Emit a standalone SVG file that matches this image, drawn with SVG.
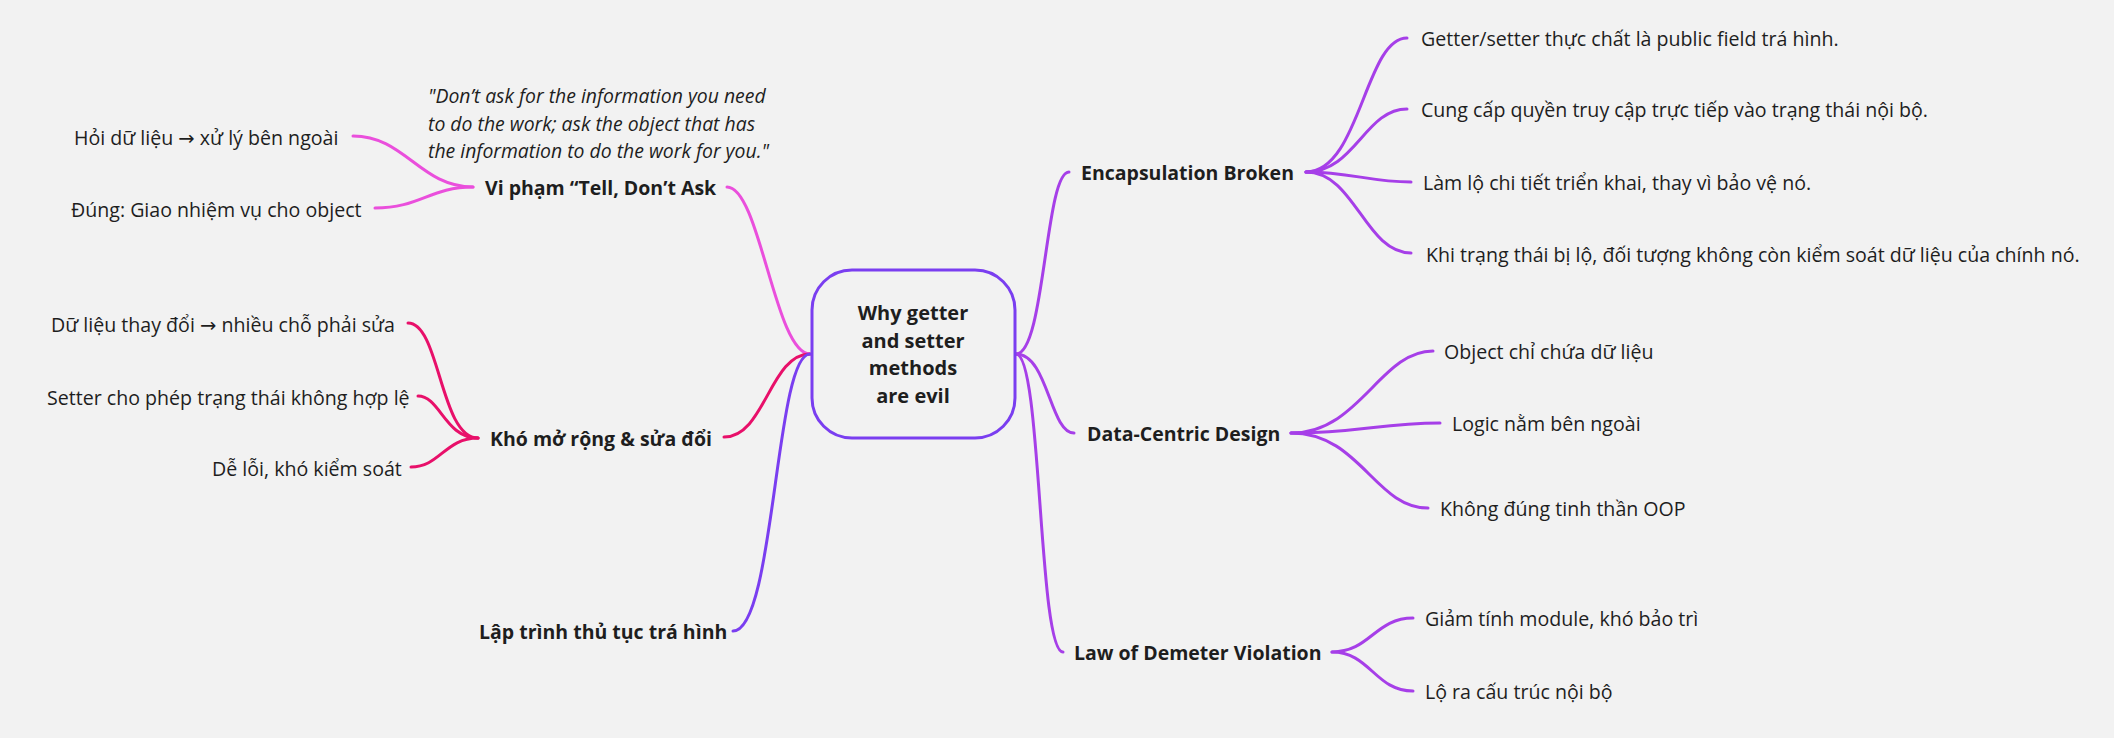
<svg xmlns="http://www.w3.org/2000/svg" width="2114" height="738" viewBox="0 0 2114 738">
<style>
text{font-family:"Open Sans","Noto Sans","DejaVu Sans",sans-serif;fill:#1e1e1e;dominant-baseline:central}
.b{font-weight:700;font-size:19.5px}
.l{font-size:19.6px}
.q{font-size:19.4px;font-style:italic}
.c{font-weight:700;font-size:20px;text-anchor:middle;dominant-baseline:auto}
.cn path{fill:none;stroke-width:3;stroke-linecap:round}
.pk{stroke:#ea4fdc}
.rd{stroke:#e8106a}
.vi{stroke:#7a3ef0}
.pu{stroke:#a63fe8}
</style>
<rect width="2114" height="738" fill="#f2f2f2"/>
<g id="connectors" class="cn">
<path class="pk" d="M810,354 C775,354 760,187 727,187"/>
<path class="rd" d="M810,354 C770,354 765,437 724,437"/>
<path class="vi" d="M810,354 C775,354 775,631 733,631"/>
<path class="pu" d="M1016,354 C1045,354 1045,172 1069,172"/>
<path class="pu" d="M1016,354 C1048,354 1050,433 1074,433"/>
<path class="pu" d="M1016,354 C1042,354 1038,652 1063,652"/>
<path class="pk" d="M473,187 C420,187 405,136 353,136"/>
<path class="pk" d="M473,187 C430,187 420,208 375,208"/>
<path class="rd" d="M478,438 C440,438 440,323 408,323"/>
<path class="rd" d="M478,438 C445,438 440,396 418,396"/>
<path class="rd" d="M478,438 C445,438 440,467 411,467"/>
<path class="pu" d="M1306,172 C1360,172 1365,38 1407,38"/>
<path class="pu" d="M1306,172 C1355,172 1365,109 1407,109"/>
<path class="pu" d="M1306,172 C1350,172 1370,182 1411,182"/>
<path class="pu" d="M1306,172 C1355,172 1365,253 1411,253"/>
<path class="pu" d="M1291,433 C1360,433 1380,351 1433,351"/>
<path class="pu" d="M1291,433 C1360,433 1380,423 1440,423"/>
<path class="pu" d="M1291,433 C1360,433 1375,508 1428,508"/>
<path class="pu" d="M1332,652 C1370,652 1375,618 1413,618"/>
<path class="pu" d="M1332,652 C1370,652 1375,691 1413,691"/>
</g>
<g id="root">
<rect x="812" y="270" width="203" height="168" rx="40" fill="#f2f2f2" stroke="#7a3ef0" stroke-width="3"/>
<text class="c" x="913" y="320">Why getter</text>
<text class="c" x="913" y="348">and setter</text>
<text class="c" x="913" y="375">methods</text>
<text class="c" x="913" y="403">are evil</text>
</g>
<g id="tell"><text class="b" x="485" y="187">Vi phạm “Tell, Don’t Ask</text></g>
<g id="quote">
<text class="q" x="428" y="95">"Don’t ask for the information you need</text>
<text class="q" x="428" y="123">to do the work; ask the object that has</text>
<text class="q" x="428" y="150">the information to do the work for you."</text>
</g>
<g id="tell1"><text class="l" x="74" y="137">Hỏi dữ liệu → xử lý bên ngoài</text></g>
<g id="tell2"><text class="l" x="71" y="209">Đúng: Giao nhiệm vụ cho object</text></g>
<g id="kho"><text class="b" x="490" y="438">Khó mở rộng &amp; sửa đổi</text></g>
<g id="kho1"><text class="l" x="51" y="324">Dữ liệu thay đổi → nhiều chỗ phải sửa</text></g>
<g id="kho2"><text class="l" x="47" y="397">Setter cho phép trạng thái không hợp lệ</text></g>
<g id="kho3"><text class="l" x="212" y="468">Dễ lỗi, khó kiểm soát</text></g>
<g id="lap"><text class="b" x="479" y="631">Lập trình thủ tục trá hình</text></g>
<g id="enc"><text class="b" x="1081" y="172">Encapsulation Broken</text></g>
<g id="enc1"><text class="l" x="1421" y="38">Getter/setter thực chất là public field trá hình.</text></g>
<g id="enc2"><text class="l" x="1421" y="109">Cung cấp quyền truy cập trực tiếp vào trạng thái nội bộ.</text></g>
<g id="enc3"><text class="l" x="1423" y="182">Làm lộ chi tiết triển khai, thay vì bảo vệ nó.</text></g>
<g id="enc4"><text class="l" x="1426" y="254">Khi trạng thái bị lộ, đối tượng không còn kiểm soát dữ liệu của chính nó.</text></g>
<g id="data"><text class="b" x="1087" y="433">Data-Centric Design</text></g>
<g id="data1"><text class="l" x="1444" y="351">Object chỉ chứa dữ liệu</text></g>
<g id="data2"><text class="l" x="1452" y="423">Logic nằm bên ngoài</text></g>
<g id="data3"><text class="l" x="1440" y="508">Không đúng tinh thần OOP</text></g>
<g id="law"><text class="b" x="1074" y="652">Law of Demeter Violation</text></g>
<g id="law1"><text class="l" x="1425" y="618">Giảm tính module, khó bảo trì</text></g>
<g id="law2"><text class="l" x="1425" y="691">Lộ ra cấu trúc nội bộ</text></g>
</svg>
